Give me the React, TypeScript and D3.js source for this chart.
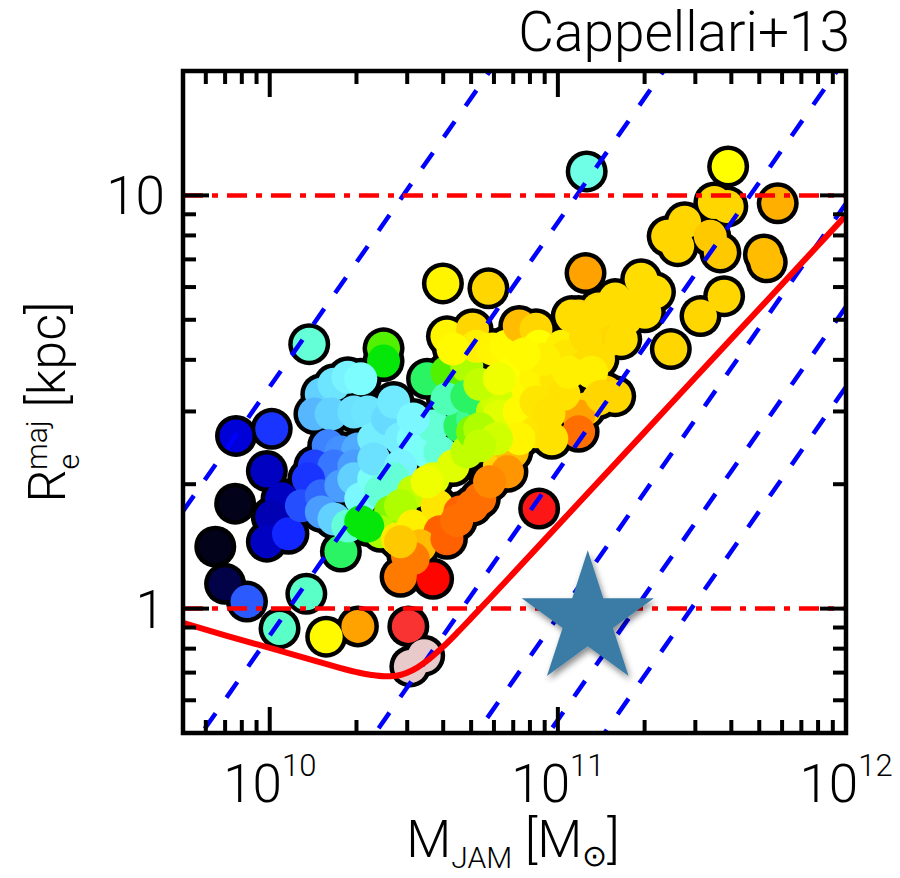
import React from 'react';
import * as d3 from 'd3';

// ---------- data ----------
const logMass = [
  11.100, 11.591, 11.763, 11.096, 10.601, 10.759, 10.137, 10.395, 10.395, 9.883,
  10.007, 9.990, 10.041, 10.007, 9.990, 10.065, 9.880, 9.811, 9.845, 9.921,
  10.034, 10.127, 10.196, 10.306, 10.481, 10.488, 10.536, 10.935, 10.247, 10.179,
  10.223, 10.271, 10.316, 10.155, 10.213, 10.292, 10.340, 10.203, 10.247, 10.306,
  10.155, 10.223, 10.292, 10.134, 10.110, 10.179, 10.247, 10.179, 10.223, 10.292,
  10.316, 10.361, 10.409, 10.271, 10.316, 10.361, 10.361, 10.409, 10.430, 10.454,
  10.498, 10.546, 10.454, 10.430, 10.385, 10.567, 10.591, 10.660, 10.704, 10.729,
  10.546, 10.615, 10.684, 10.498, 10.615, 10.684, 10.419, 10.385, 10.340, 10.498,
  10.454, 10.567, 10.636, 10.684, 10.704, 10.753, 10.773, 10.821, 10.797, 10.842,
  10.443, 10.498, 10.581, 10.546, 10.729, 10.660, 10.591, 10.522, 10.478, 10.454,
  10.567, 10.615, 10.704, 10.825, 10.763, 10.649, 10.498, 10.454, 10.615, 10.704,
  10.718, 10.773, 10.821, 10.866, 10.924, 10.935, 10.636, 11.072, 11.141, 11.117,
  11.186, 11.014, 11.027, 10.842, 10.876, 10.924, 10.993, 11.096, 11.141, 11.165,
  11.096, 11.141, 11.072, 11.072, 10.787, 10.797, 10.866, 10.924, 10.924, 10.866,
  10.729, 10.787, 10.729, 10.979, 10.969, 11.021, 11.038, 11.117, 11.151, 11.199,
  10.729, 10.797, 10.952, 10.883, 11.048, 11.096, 11.199, 11.141, 11.220, 11.234,
  11.254, 11.289, 11.302, 11.337, 11.392, 11.495, 11.577, 11.381, 11.440, 11.416,
  11.529, 11.564, 11.543, 11.588, 11.715, 11.725,
];
const logRe = [
  1.058, 1.070, 0.981, 0.812, 0.787, 0.775, 0.640, 0.630, 0.599, 0.418,
  0.435, 0.333, 0.266, 0.222, 0.162, 0.181, 0.254, 0.150, 0.060, 0.017,
  -0.048, 0.036, -0.068, -0.043, -0.043, -0.140, -0.114, 0.242, 0.138, 0.519,
  0.543, 0.560, 0.556, 0.471, 0.471, 0.476, 0.476, 0.394, 0.379, 0.386,
  0.345, 0.345, 0.345, 0.314, 0.249, 0.273, 0.297, 0.234, 0.217, 0.314,
  0.266, 0.314, 0.331, 0.200, 0.210, 0.411, 0.362, 0.459, 0.500, 0.411,
  0.411, 0.379, 0.345, 0.314, 0.283, 0.442, 0.379, 0.442, 0.459, 0.500,
  0.556, 0.572, 0.587, 0.459, 0.507, 0.514, 0.234, 0.186, 0.200, 0.283,
  0.249, 0.314, 0.345, 0.379, 0.428, 0.411, 0.476, 0.442, 0.345, 0.379,
  0.169, 0.200, 0.249, 0.307, 0.266, 0.234, 0.186, 0.152, 0.128, 0.077,
  0.072, 0.169, 0.249, 0.331, 0.307, 0.213, 0.121, 0.162, 0.659, 0.676,
  0.635, 0.628, 0.635, 0.684, 0.676, 0.635, 0.628, 0.708, 0.725, 0.645,
  0.652, 0.635, 0.611, 0.572, 0.524, 0.563, 0.556, 0.587, 0.604, 0.524,
  0.483, 0.507, 0.466, 0.428, 0.507, 0.466, 0.476, 0.500, 0.428, 0.411,
  0.435, 0.411, 0.394, 0.411, 0.471, 0.519, 0.572, 0.572, 0.514, 0.514,
  0.543, 0.556, 0.604, 0.616, 0.708, 0.659, 0.749, 0.717, 0.652, 0.700,
  0.732, 0.797, 0.717, 0.766, 0.628, 0.708, 0.756, 0.901, 0.935, 0.877,
  0.901, 0.862, 0.983, 0.973, 0.857, 0.838,
];
const colourValue = [
  0.43, 0.59, 0.70, 0.71, 0.61, 0.67, 0.44, 0.52, 0.50, 0.145,
  0.21, 0.13, 0.13, 0.12, 0.13, 0.20, 0.02, 0.02, 0.05, 0.24,
  0.45, 0.45, 0.60, 0.71, 0.87, 0.98, 0.98, 0.85, 0.48, 0.33,
  0.36, 0.39, 0.41, 0.31, 0.33, 0.35, 0.36, 0.27, 0.28, 0.30,
  0.22, 0.26, 0.29, 0.21, 0.23, 0.25, 0.29, 0.29, 0.33, 0.33,
  0.40, 0.42, 0.43, 0.44, 0.50, 0.38, 0.35, 0.34, 0.37, 0.38,
  0.41, 0.42, 0.39, 0.44, 0.44, 0.44, 0.44, 0.48, 0.47, 0.48,
  0.48, 0.52, 0.54, 0.40, 0.46, 0.48, 0.53, 0.54, 0.50, 0.55,
  0.54, 0.57, 0.57, 0.55, 0.53, 0.54, 0.55, 0.60, 0.67, 0.69,
  0.63, 0.62, 0.64, 0.58, 0.75, 0.76, 0.76, 0.69, 0.74, 0.74,
  0.83, 0.76, 0.75, 0.72, 0.73, 0.75, 0.74, 0.68, 0.61, 0.67,
  0.62, 0.61, 0.60, 0.69, 0.67, 0.59, 0.60, 0.67, 0.67, 0.67,
  0.67, 0.62, 0.64, 0.59, 0.60, 0.61, 0.64, 0.66, 0.66, 0.68,
  0.67, 0.67, 0.71, 0.75, 0.56, 0.57, 0.60, 0.64, 0.64, 0.61,
  0.54, 0.56, 0.55, 0.65, 0.65, 0.65, 0.62, 0.62, 0.67, 0.67,
  0.55, 0.58, 0.62, 0.60, 0.66, 0.66, 0.66, 0.66, 0.66, 0.66,
  0.66, 0.66, 0.66, 0.66, 0.67, 0.67, 0.67, 0.67, 0.67, 0.67,
  0.68, 0.68, 0.67, 0.67, 0.69, 0.69,
];

// lines of constant velocity dispersion (km/s)
const sigmaLines = [50, 100, 200, 300, 400, 500];
const G = 0.004302e-3; // kpc (km/s)^2 / Msun

// zone of exclusion curve
const zoeMass = [5e9, 7e9, 1e10, 1.5e10, 2e10, 2.25e10, 2.5e10, 2.75e10, 3e10, 3.25e10, 3.5e10, 4e10, 4.5e10, 5e10, 6e10, 7e10, 1e11, 2e11, 3e11, 5e11, 1e12];
const zoeRe = [0.923, 0.862, 0.803, 0.741, 0.702, 0.691, 0.686, 0.688, 0.700, 0.720, 0.746, 0.809, 0.878, 0.948, 1.085, 1.217, 1.590, 2.674, 3.625, 5.317, 8.95];

const refRe = [1, 10];
const starMass = 1.27e11;
const starRe = 0.94;

const xMajor = [1e10, 1e11, 1e12];
const xMajorExp = ['10', '11', '12'];
const yMajor = [1, 10];
const yMajorLabels = ['1', '10'];
const title = 'Cappellari+13';

// sauron colormap
const sauronPos = [1, 43.5, 86, 106, 118.5, 128.5, 138.5, 151, 171, 213.5, 256];
const sauronR = [0.01, 0.0, 0.4, 0.5, 0.3, 0.0, 0.7, 1.0, 1.0, 1.0, 0.9];
const sauronG = [0.01, 0.0, 0.85, 1.0, 1.0, 0.9, 1.0, 1.0, 0.85, 0.0, 0.9];
const sauronB = [0.01, 1.0, 1.0, 1.0, 0.7, 0.0, 0.0, 0.0, 0.0, 0.0, 0.9];

function sauron(v: number): string {
  const idx = Math.max(1, Math.min(256, v * 256));
  let i = 0;
  while (i < sauronPos.length - 2 && idx > sauronPos[i + 1]) i++;
  const t = (idx - sauronPos[i]) / (sauronPos[i + 1] - sauronPos[i]);
  const c = (a: number[]) => Math.round(255 * (a[i] + (a[i + 1] - a[i]) * t));
  return `rgb(${c(sauronR)},${c(sauronG)},${c(sauronB)})`;
}

const FONT = "Roboto, 'Liberation Sans', Arial, sans-serif";

export default function App() {
  const L = 183, R = 846, T = 71, B = 733;
  const x = d3.scaleLog().domain([5e9, 1e12]).range([L, R]);
  const y = d3.scaleLog().domain([0.5, 20]).range([B, T]);
  const [m0, m1] = x.domain();

  const idx = d3.range(logMass.length);

  const xTicks: { v: number; major: boolean }[] = [];
  for (let d = 9; d <= 12; d++) for (let k = 1; k <= 9; k++) {
    const v = k * Math.pow(10, d);
    if (v >= m0 * 0.999 && v <= m1 * 1.001) xTicks.push({ v, major: k === 1 });
  }
  const yTicks: { v: number; major: boolean }[] = [];
  for (let d = -1; d <= 1; d++) for (let k = 1; k <= 9; k++) {
    const v = k * Math.pow(10, d);
    if (v >= 0.5 * 0.999 && v <= 20 * 1.001) yTicks.push({ v, major: k === 1 });
  }
  const majL = 26, minL = 13, tw = 4;

  const zoeLine = d3.line<number>()
    .x((i) => x(zoeMass[i]))
    .y((i) => y(zoeRe[i]))
    .curve(d3.curveMonotoneX)(d3.range(zoeMass.length));

  const cx = x(starMass), cy = y(starRe);
  const Ro = 69.5, Ri = 26.5;
  const starPts: string[] = [];
  for (let k = 0; k < 10; k++) {
    const a = (-90 + k * 36) * Math.PI / 180;
    const r = k % 2 === 0 ? Ro : Ri;
    starPts.push(`${cx + r * Math.cos(a)},${cy + r * Math.sin(a)}`);
  }

  return (
    <svg width={900} height={878} style={{ position: 'absolute', left: 0, top: 0, background: '#fff' }} fontFamily={FONT}>
      <defs>
        <clipPath id="plotclip"><rect x={L} y={T} width={R - L} height={B - T} /></clipPath>
        <filter id="shadow" x="-30%" y="-30%" width="160%" height="160%">
          <feDropShadow dx="2" dy="4" stdDeviation="3" floodColor="#000" floodOpacity="0.45" />
        </filter>
      </defs>

      <g clipPath="url(#plotclip)">
        {idx.map((i) => (
          <circle key={'o' + i} cx={x(Math.pow(10, logMass[i]))} cy={y(Math.pow(10, logRe[i]))} r={21} fill="#000" />
        ))}
        {idx.map((i) => (
          <circle key={'f' + i} cx={x(Math.pow(10, logMass[i]))} cy={y(Math.pow(10, logRe[i]))} r={16.5} fill={sauron(colourValue[i])} />
        ))}
        {sigmaLines.map((s) => {
          const rA = (G * m0) / (5 * s * s);
          const rB = (G * m1) / (5 * s * s);
          return (
            <line key={'s' + s} x1={x(m0)} y1={y(rA)} x2={x(m1)} y2={y(rB)}
              stroke="#0000ff" strokeWidth={4.5} strokeDasharray="19,19" />
          );
        })}
        {refRe.map((r) => (
          <line key={'r' + r} x1={L} x2={R} y1={y(r)} y2={y(r)} stroke="#ff0000" strokeWidth={4.5} strokeDasharray="20,9,6,9" />
        ))}
        <path d={zoeLine || ''} fill="none" stroke="#ff0000" strokeWidth={6} />
      </g>

      <g stroke="#000" strokeWidth={tw}>
        {xTicks.map((t, i) => {
          const px = x(t.v); const len = t.major ? majL : minL;
          return (
            <g key={'xt' + i}>
              <line x1={px} x2={px} y1={B} y2={B - len} />
              <line x1={px} x2={px} y1={T} y2={T + len} />
            </g>
          );
        })}
        {yTicks.map((t, i) => {
          const py = y(t.v); const len = t.major ? majL : minL;
          return (
            <g key={'yt' + i}>
              <line x1={L} x2={L + len} y1={py} y2={py} />
              <line x1={R} x2={R - len} y1={py} y2={py} />
            </g>
          );
        })}
        <rect x={L} y={T} width={R - L} height={B - T} fill="none" strokeWidth={4.5} />
      </g>

      <polygon points={starPts.join(' ')} fill="#3a7ca6" filter="url(#shadow)" />

      {xMajor.map((v, i) => (
        <text key={'xl' + i} x={x(v)} y={802} textAnchor="middle" fontSize={53} fontWeight={300} fill="#000">
          10<tspan fontSize={31} dy={-26}>{xMajorExp[i]}</tspan>
        </text>
      ))}
      {yMajor.map((v, i) => (
        <text key={'yl' + i} x={165} y={y(v) + 19} textAnchor="end" fontSize={53} fontWeight={300} fill="#000">
          {yMajorLabels[i]}
        </text>
      ))}

      <text x={850} y={51} textAnchor="end" fontSize={55} fontWeight={300} fill="#000">{title}</text>

      <text x={513} y={857} textAnchor="middle" fontSize={52} fontWeight={300} fill="#000">
        M<tspan fontSize={30} dy={11}>JAM</tspan>
        <tspan dy={-11}> [M</tspan>
        <tspan fontSize={30} dy={9} fontFamily="'DejaVu Sans'">⊙</tspan>
        <tspan dy={-9}>]</tspan>
      </text>
      <g transform={`translate(65, 402) rotate(-90)`}>
        <text x={0} y={0} textAnchor="middle" fontSize={52} fontWeight={300} fill="#000">
          R<tspan fontSize={30} dy={14}>e</tspan>
          <tspan fontSize={30} dx={-16} dy={-32}>maj</tspan>
          <tspan dy={18}> [kpc]</tspan>
        </text>
      </g>
    </svg>
  );
}
